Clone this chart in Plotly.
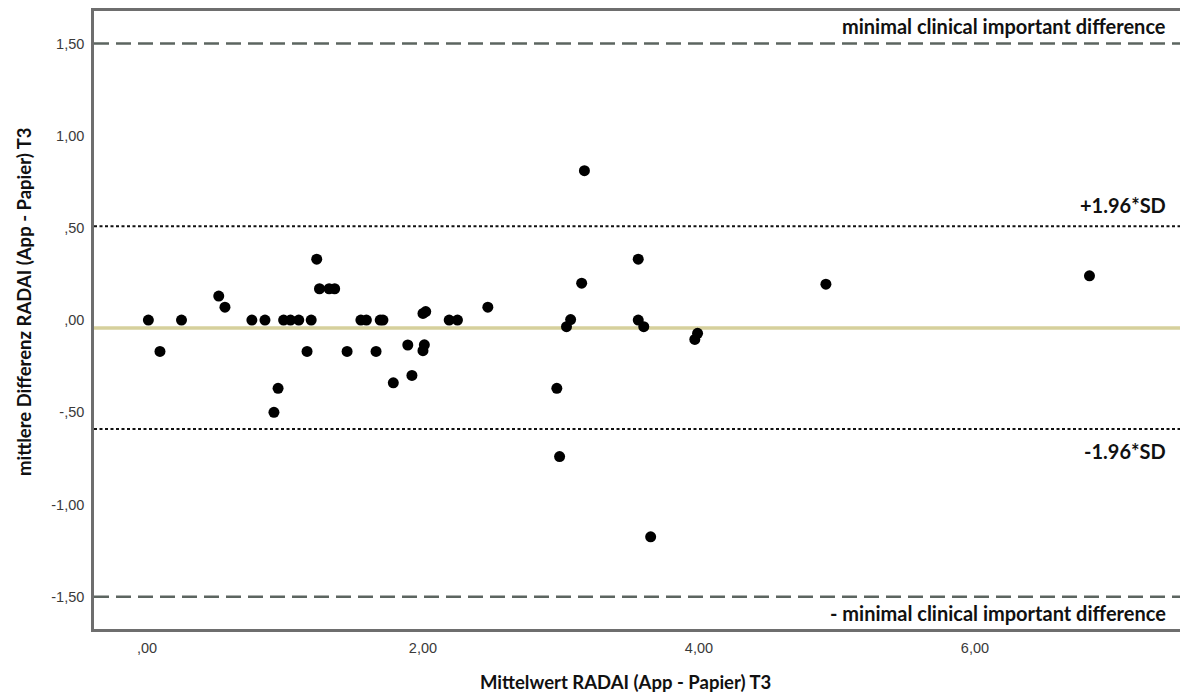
import plotly.graph_objects as go

# ---- data ----
mean_radai = [0.01, 0.094, 0.25, 0.52, 0.565, 0.76, 0.855, 0.92, 0.95, 0.99, 1.04, 1.10,
              1.16, 1.19, 1.23, 1.25, 1.32, 1.36, 1.45, 1.55, 1.59, 1.66, 1.69, 1.71,
              1.785, 1.89, 1.92, 2.00, 2.02, 2.01, 2.00, 2.19, 2.25, 2.47, 2.97, 2.99,
              3.04, 3.07, 3.15, 3.17, 3.56, 3.56, 3.60, 3.65, 3.97, 3.99, 4.92, 6.83]
diff_radai = [0.00, -0.17, 0.00, 0.13, 0.07, 0.00, 0.00, -0.50, -0.37, 0.00, 0.00, 0.00,
              -0.17, 0.00, 0.33, 0.17, 0.17, 0.17, -0.17, 0.00, 0.00, -0.17, 0.00, 0.00,
              -0.34, -0.135, -0.30, 0.036, 0.046, -0.134, -0.166, 0.00, 0.00, 0.07, -0.37, -0.74,
              -0.036, 0.003, 0.20, 0.81, 0.33, 0.00, -0.036, -1.175, -0.105, -0.072, 0.195, 0.24]

mean_diff = -0.043
upper_loa = 0.509
lower_loa = -0.591
mcid_upper = 1.5
mcid_lower = -1.5

x_tickvals = [0, 2, 4, 6]
x_ticktext = [",00", "2,00", "4,00", "6,00"]
y_tickvals = [-1.5, -1.0, -0.5, 0.0, 0.5, 1.0, 1.5]
y_ticktext = ["-1,50", "-1,00", "-,50", ",00", ",50", "1,00", "1,50"]

x_title = "Mittelwert RADAI (App - Papier) T3"
y_title = "mittlere Differenz RADAI (App - Papier) T3"
label_mcid_up = "minimal clinical important difference"
label_mcid_low = "- minimal clinical important difference"
label_up = "+1.96*SD"
label_low = "-1.96*SD"

fig = go.Figure()

# reference lines (data y, full width)
fig.add_shape(type="line", xref="paper", yref="y", x0=0, x1=1, y0=mean_diff, y1=mean_diff,
              line=dict(color="#d6d09c", width=3.5), layer="below")
for yv in (mcid_upper, mcid_lower):
    fig.add_shape(type="line", xref="paper", yref="y", x0=0, x1=1, y0=yv, y1=yv,
                  line=dict(color="#5c6560", width=2.5, dash="15px,7px"), layer="below")
for yv in (upper_loa, lower_loa):
    fig.add_shape(type="line", xref="paper", yref="y", x0=0, x1=1, y0=yv, y1=yv,
                  line=dict(color="#111111", width=2, dash="3px,2.5px"), layer="below")

fig.add_trace(go.Scatter(x=mean_radai, y=diff_radai, mode="markers",
                         marker=dict(color="black", size=11, line=dict(width=0)),
                         showlegend=False, hoverinfo="x+y"))

lab_font = dict(family="Lato, 'Open Sans', sans-serif", size=20, color="#111111")
for txt, yv, yshift in ((label_mcid_up, mcid_upper, 17), (label_up, upper_loa, 21),
                        (label_low, lower_loa, -22), (label_mcid_low, mcid_lower, -16)):
    fig.add_annotation(text="<b>%s</b>" % txt, xref="paper", yref="y", x=0.989, y=yv,
                       xanchor="right", yanchor="middle", yshift=yshift,
                       showarrow=False, font=lab_font)

title_font = dict(family="Lato, 'Open Sans', sans-serif", size=18.5, color="#111111")
fig.add_annotation(text="<b>%s</b>" % x_title, xref="paper", yref="paper",
                   x=(625 - 94) / (1180 - 94), y=-(682 - 629) / 618, xanchor="center",
                   yanchor="middle", showarrow=False, font=title_font)
fig.add_annotation(text="<b>%s</b>" % y_title, xref="paper", yref="paper",
                   x=-(94 - 24) / (1180 - 94), y=(629 - 302) / 618, xanchor="center",
                   yanchor="middle", textangle=-90, showarrow=False, font=title_font)

tick_font = dict(family="Arial, 'Liberation Sans', sans-serif", size=14.5, color="#3a3a3a")
fig.update_layout(
    width=1180, height=696,
    margin=dict(l=94, r=0, t=11, b=67),
    paper_bgcolor="white", plot_bgcolor="white",
    xaxis=dict(range=[-0.384, 7.486], tickvals=x_tickvals, ticktext=x_ticktext,
               showgrid=False, zeroline=False, showline=True, mirror=True,
               linecolor="#6e6e6e", linewidth=2.5, ticks="", tickfont=tick_font,
               ticklabelstandoff=4),
    yaxis=dict(range=[-1.675, 1.676], tickvals=y_tickvals, ticktext=y_ticktext,
               showgrid=False, zeroline=False, showline=True, mirror=False,
               linecolor="#6e6e6e", linewidth=2.5, ticks="", tickfont=tick_font,
               ticklabelstandoff=4),
)

fig.write_html("out.html", config={"displayModeBar": False},
               post_script="document.body.style.margin='0';document.body.style.padding='0';")
